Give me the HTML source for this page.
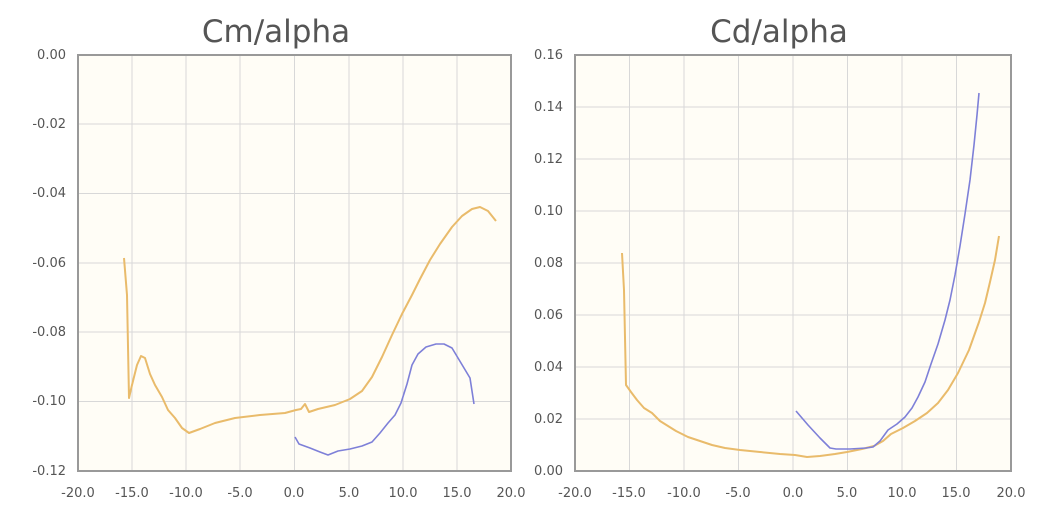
<!DOCTYPE html>
<html><head><meta charset="utf-8"><style>
body{margin:0;background:#fff;}
svg{display:block;font-family:"DejaVu Sans","Liberation Sans",sans-serif;}
.t{font-size:31px;fill:#555;text-anchor:middle;}
.yl{font-size:13px;fill:#555;text-anchor:end;}
.xl{font-size:13px;fill:#555;text-anchor:middle;}
.g{stroke:#d8d8d8;stroke-width:1;}
.o{fill:none;stroke:#e9bb6b;stroke-width:2;stroke-linejoin:round;}
.b{fill:none;stroke:#7e80d8;stroke-width:1.6;stroke-linejoin:round;}
</style></head><body>
<svg width="1042" height="522" viewBox="0 0 1042 522">
<text class="t" x="276" y="42">Cm/alpha</text>
<text class="t" x="779" y="42">Cd/alpha</text>
<rect x="78" y="55" width="433" height="416" fill="#fffdf6"/>
<g class="g">
<line x1="132" y1="55" x2="132" y2="471"/><line x1="186" y1="55" x2="186" y2="471"/><line x1="240" y1="55" x2="240" y2="471"/><line x1="294.5" y1="55" x2="294.5" y2="471"/><line x1="349" y1="55" x2="349" y2="471"/><line x1="403" y1="55" x2="403" y2="471"/><line x1="457" y1="55" x2="457" y2="471"/>
<line x1="78" y1="124" x2="511" y2="124"/><line x1="78" y1="193.5" x2="511" y2="193.5"/><line x1="78" y1="263" x2="511" y2="263"/><line x1="78" y1="332" x2="511" y2="332"/><line x1="78" y1="401.5" x2="511" y2="401.5"/>
</g>
<rect x="78" y="55" width="433" height="416" fill="none" stroke="#999" stroke-width="2"/>
<g class="yl"><text x="66" y="59">0.00</text><text x="66" y="128">-0.02</text><text x="66" y="197">-0.04</text><text x="66" y="267">-0.06</text><text x="66" y="336">-0.08</text><text x="66" y="405">-0.10</text><text x="66" y="475">-0.12</text></g>
<g class="xl"><text x="78" y="497">-20.0</text><text x="132" y="497">-15.0</text><text x="186" y="497">-10.0</text><text x="240" y="497">-5.0</text><text x="294" y="497">0.0</text><text x="349" y="497">5.0</text><text x="403" y="497">10.0</text><text x="457" y="497">15.0</text><text x="511" y="497">20.0</text></g>
<polyline class="o" points="124,258 127,295 129,398 132,385 137,365 141,356 145,358 150,374 155,385 162,397 168,410 175,418 182,428 189,433 200,429 215,423 235,418 260,415 285,413 296,410 301,409 305,404 309,412 318,409 335,405 350,399 362,391 372,377 382,357 392,335 402,314 412,295 420,279 430,260 440,244 452,227 462,216 472,209 480,207 488,211 496,221"/>
<polyline class="b" points="295,437 299,444 310,448 320,452 328,455 338,451 350,449 362,446 372,442 380,433 388,423 395,415 401,403 407,384 412,365 418,354 426,347 436,344 444,344 452,348 458,358 464,368 470,378 474,404"/>
<rect x="575" y="55" width="436" height="416" fill="#fffdf6"/>
<g class="g">
<line x1="629.5" y1="55" x2="629.5" y2="471"/><line x1="684" y1="55" x2="684" y2="471"/><line x1="738.5" y1="55" x2="738.5" y2="471"/><line x1="793" y1="55" x2="793" y2="471"/><line x1="847.5" y1="55" x2="847.5" y2="471"/><line x1="902" y1="55" x2="902" y2="471"/><line x1="956.5" y1="55" x2="956.5" y2="471"/>
<line x1="575" y1="107" x2="1011" y2="107"/><line x1="575" y1="159" x2="1011" y2="159"/><line x1="575" y1="211" x2="1011" y2="211"/><line x1="575" y1="263" x2="1011" y2="263"/><line x1="575" y1="315" x2="1011" y2="315"/><line x1="575" y1="367" x2="1011" y2="367"/><line x1="575" y1="419" x2="1011" y2="419"/>
</g>
<rect x="575" y="55" width="436" height="416" fill="none" stroke="#999" stroke-width="2"/>
<g class="yl"><text x="563" y="59">0.16</text><text x="563" y="111">0.14</text><text x="563" y="163">0.12</text><text x="563" y="215">0.10</text><text x="563" y="267">0.08</text><text x="563" y="319">0.06</text><text x="563" y="371">0.04</text><text x="563" y="423">0.02</text><text x="563" y="475">0.00</text></g>
<g class="xl"><text x="575" y="497">-20.0</text><text x="629" y="497">-15.0</text><text x="684" y="497">-10.0</text><text x="738" y="497">-5.0</text><text x="793" y="497">0.0</text><text x="847" y="497">5.0</text><text x="902" y="497">10.0</text><text x="956" y="497">15.0</text><text x="1011" y="497">20.0</text></g>
<polyline class="o" points="622,253 624,290 626,385 631,392 637,400 644,408 652,413 660,421 668,426 676,431 688,437 700,441 712,445 725,448 740,450 760,452 780,454 795,455 807,457 820,456 835,454 847,452 862,449 874,446 883,441 891,434 903,428 915,421 927,413 938,403 948,390 958,373 969,350 979,322 985,303 990,282 995,260 999,236"/>
<polyline class="b" points="796,411 808,425 820,438 830,448 836,449 850,449 866,448 873,447 880,441 888,430 897,424 905,417 912,408 918,397 925,382 931,364 938,344 945,320 950,300 955,275 960,246 965,214 970,180 974,145 977,115 979,93"/>
</svg>
</body></html>
